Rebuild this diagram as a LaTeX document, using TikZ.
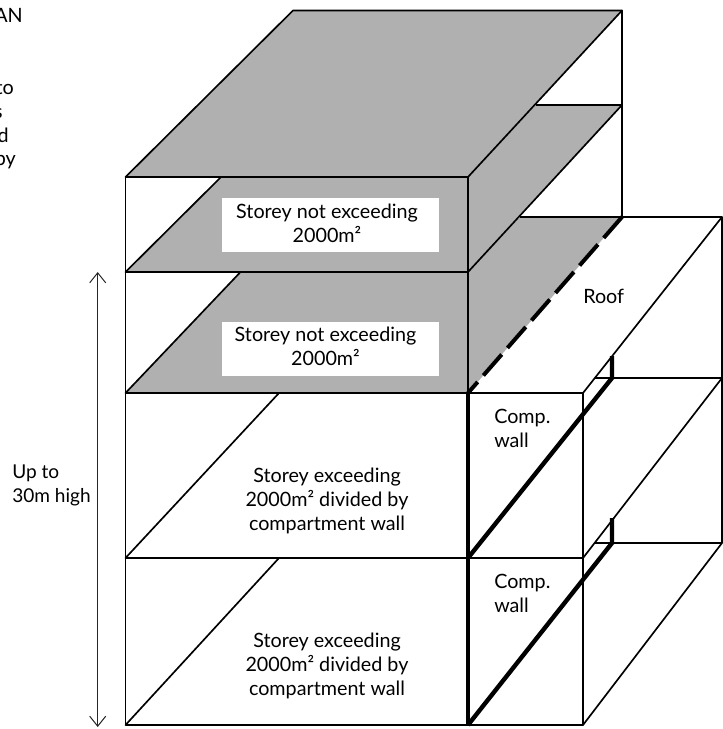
\documentclass[tikz,border=0pt]{standalone}
\usepackage{fontspec}
\setmainfont{Lato}
\usetikzlibrary{arrows.meta}
\tikzset{
  edge/.style={line width=1.25pt,black,line cap=round,line join=round},
  floorline/.style={line width=1.6pt,black},
  wall/.style={line width=3.3pt,black},
  roofdash/.style={line width=3pt,black,dash pattern=on 20.9pt off 6.5pt},
  greyface/.style={fill=facegrey,draw=none},
  whitebox/.style={fill=white,draw=none},
  label/.style={font=\fontsize{14.8}{18}\selectfont,align=center,inner sep=0pt},
  leftlabel/.style={font=\fontsize{14.8}{18}\selectfont,align=left,inner sep=0pt},
  dim/.style={line width=.75pt,black!85,{Straight Barb[length=7.5pt,width=12pt,line width=.75pt]}-{Straight Barb[length=7.5pt,width=12pt,line width=.75pt]}},
  cut/.style={font=\fontsize{14.8}{18}\selectfont,inner sep=0pt,anchor=base east}
}
\definecolor{facegrey}{HTML}{B0B0B0}
\begin{document}
\begin{tikzpicture}[x=0.75pt,y=-0.75pt]
\useasboundingbox (0,0) rectangle (723,729);
% corners
\coordinate (FT) at (125.5,177); \coordinate (GT) at (468,177);
\coordinate (F2) at (125.5,272); \coordinate (G2) at (468,272);
\coordinate (F3) at (125.5,393); \coordinate (G3) at (468,393);
\coordinate (F4) at (125.5,558); \coordinate (G4) at (468,558);
\coordinate (F5) at (125.5,725); \coordinate (G5) at (468,725);
\coordinate (BL) at (293,10.5); \coordinate (BR) at (622,10.5);
\coordinate (BM) at (622,105); \coordinate (BMl) at (536,105);
\coordinate (BR3) at (622,217); \coordinate (BL3) at (520,217);
\coordinate (E) at (722,217); \coordinate (H3) at (583,393);
\coordinate (H4) at (583,558); \coordinate (H5) at (583,725);
\coordinate (E2) at (722,378); \coordinate (E2l) at (595,378);
\coordinate (E3) at (722,543); \coordinate (E3l) at (595,543);
\coordinate (W2) at (612,378); \coordinate (W2t) at (612,356);
\coordinate (W3) at (612,543); \coordinate (W3t) at (612,518);
\coordinate (D2) at (221,177); \coordinate (D3) at (240.5,272);
\coordinate (D4) at (279,393); \coordinate (D5) at (279,558);
\coordinate (A1) at (97.7,272); \coordinate (A2) at (97.7,727);
% grey faces
\fill[greyface] (FT)--(BL)--(BR)--(GT)--cycle;
\fill[greyface] (GT)--(BMl)--(BM)--(G2)--cycle;
\fill[greyface] (G2)--(BL3)--(BR3)--(G3)--cycle;
\fill[greyface] (F2)--(D2)--(GT)--(G2)--cycle;
\fill[greyface] (F3)--(D3)--(G2)--(G3)--cycle;
% white label panels
\fill[whitebox] (222,198) rectangle (439,252);
\fill[whitebox] (222,322) rectangle (439,376);
% thin edges
\draw[edge] (FT)--(BL)--(BR)--(BR3);
\draw[edge] (BR)--(GT);
\draw[edge] (BM)--(G2);
\draw[edge] (F2)--(D2);
\draw[edge] (F3)--(D3);
\draw[edge] (F4)--(D4);
\draw[edge] (F5)--(D5);
\draw[edge] (FT)--(F5);
\draw[edge] (GT)--(G3);
\draw[edge] (H3)--(H5);
\draw[edge] (H3)--(E)--(E3);
\draw[edge] (H4)--(E2);
\draw[edge] (H5)--(E3);
% floor lines
\draw[floorline] (FT)--(GT);
\draw[floorline] (F2)--(G2);
\draw[floorline] (F3)--(H3);
\draw[floorline] (F4)--(H4);
\draw[floorline] (F5)--(H5);
\draw[floorline] (BMl)--(BM);
\draw[floorline] (BL3)--(E);
\draw[floorline] (E2l)--(E2);
\draw[floorline] (E3l)--(E3);
% compartment walls
\draw[wall] (G3)--(G5);
\draw[wall] (G4)--(W2)--(W2t);
\draw[wall] (G5)--(W3)--(W3t);
% roof edge
\draw[roofdash] (BR3)--(G3);
% dimension
\draw[dim] (A1)--(A2);
% labels
\node[label] (s1) at (327,223) {Storey not exceeding\\2000m²};
\node[label] (s2) at (325.5,346) {Storey not exceeding\\2000m²};
\node[label] (s3) at (327,500.5) {Storey exceeding\\2000m² divided by\\compartment wall};
\node[label] (s4) at (327,665.5) {Storey exceeding\\2000m² divided by\\compartment wall};
\node[leftlabel,anchor=west] (c1) at (494,428.5) {Comp.\\wall};
\node[leftlabel,anchor=west] (c2) at (494,593.5) {Comp.\\wall};
\node[label,anchor=base west] (r) at (583,303) {Roof};
\node[leftlabel,font=\fontsize{14.3}{18}\selectfont,anchor=west] (u) at (12,485.5) {Up to\\30m high};
% text running off the left edge
\node[cut] (t1) at (23,22) {AN};
\node[cut] (t2) at (14,94) {to};
\node[cut] (t3) at (3,118) {s};
\node[cut] (t4) at (9,142) {d};
\node[cut] (t5) at (16,165) {by};
\end{tikzpicture}
\end{document}
